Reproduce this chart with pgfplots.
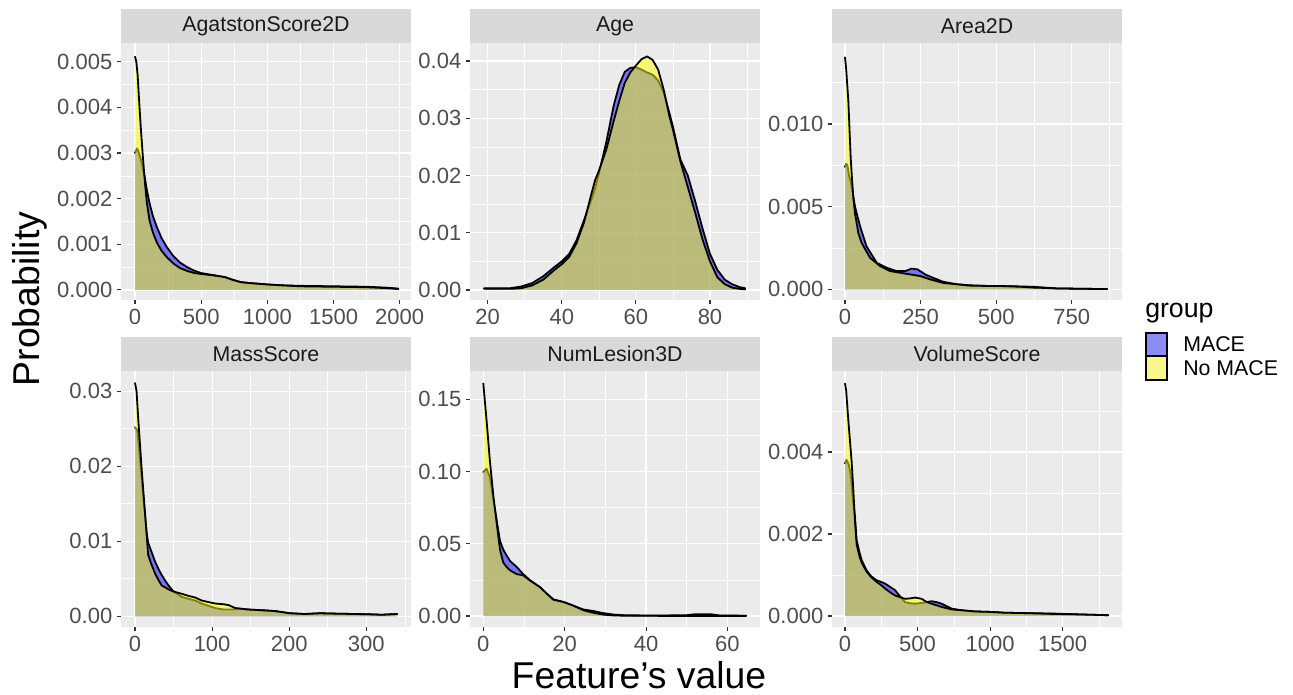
\documentclass[border=0pt]{standalone}
\usepackage{pgfplots}
\pgfplotsset{compat=1.18}
\usepackage{pgfplotstable}
\usepackage{fontspec}
\setmainfont{Liberation Sans}
\definecolor{panelbg}{HTML}{EBEBEB}
\definecolor{stripbg}{HTML}{D9D9D9}
\definecolor{gthirty}{HTML}{4D4D4D}
\definecolor{gtwenty}{HTML}{333333}
\definecolor{gten}{HTML}{1A1A1A}
\definecolor{maceblue}{HTML}{0000FF}
\definecolor{noyellow}{HTML}{FFFF00}

% ---------- data (x, density) ----------
\pgfplotstableread{
x y
0 0.00300
15 0.00310
30 0.00300
45 0.00285
60 0.00265
75 0.00245
90 0.00218
110 0.00190
135 0.00162
165 0.00138
200 0.00114
240 0.00094
290 0.00074
340 0.00060
400 0.00049
450 0.00042
500 0.00037
560 0.00034
620 0.00031
680 0.00028
740 0.00022
800 0.00017
870 0.00015
1000 0.00012
1120 0.00010
1250 0.00009
1500 0.00008
1750 0.00007
1900 0.00005
1990 0.00003
}\AgM
\pgfplotstableread{
x y
0 0.00511
10 0.00500
20 0.00470
30 0.00420
45 0.00350
60 0.00290
75 0.00235
90 0.00190
110 0.00152
135 0.00126
165 0.00104
200 0.00086
240 0.00072
290 0.00058
340 0.00048
400 0.00041
450 0.00037
500 0.00035
560 0.00033
620 0.00031
680 0.00028
740 0.00022
800 0.00017
870 0.00015
1000 0.00012
1120 0.00010
1250 0.00008
1500 0.00007
1750 0.00006
1900 0.00004
1990 0.00002
}\AgN
\pgfplotstableread{
x y
19 0.0003
26 0.0003
29 0.0006
32 0.0012
35 0.0024
38 0.0040
40 0.0050
42 0.0063
44 0.0087
46 0.0122
48 0.0158
49 0.0178
50 0.0203
52 0.0258
54 0.0322
55.5 0.0358
57 0.0381
58.5 0.0388
60 0.0389
61.5 0.0385
63 0.0380
64.5 0.0376
66 0.0366
67.5 0.0345
69 0.0310
70 0.0285
72 0.0228
74 0.0200
76 0.0155
78 0.0107
80 0.0063
82 0.0035
84 0.0018
86 0.0010
88 0.0005
89.5 0.0003
}\AgeM
\pgfplotstableread{
x y
19 0.0002
26 0.0002
29 0.0003
32 0.0008
35 0.0018
38 0.0035
40 0.0045
42 0.0058
44 0.0082
46 0.0118
48 0.0168
49 0.0192
50 0.0208
52 0.0245
54 0.0295
55.5 0.0330
57 0.0362
58.5 0.0380
60 0.0392
61.5 0.0403
63 0.0408
64.5 0.0402
66 0.0385
67.5 0.0350
69 0.0305
70 0.0280
72 0.0225
74 0.0180
76 0.0135
78 0.0088
80 0.0050
82 0.0022
84 0.0010
86 0.0004
88 0.0002
89.5 0.0001
}\AgeN
\pgfplotstableread{
x y
0 0.0074
4 0.0076
8 0.0075
13 0.0069
19 0.0065
22 0.0062
27.6 0.0056
33 0.0050
50 0.0038
71 0.0026
105 0.0016
138 0.0013
170 0.0011
200 0.0011
220 0.00125
240 0.0012
265 0.0009
290 0.0007
325 0.00045
370 0.0003
413 0.00024
470 0.0002
524 0.00019
580 0.00017
623 0.00015
660 0.0001
700 0.00005
780 0.00003
867 0.00001
}\ArM
\pgfplotstableread{
x y
0 0.01403
4 0.0133
11 0.0114
18.7 0.0080
22 0.0070
27.6 0.0055
33 0.0046
44 0.0034
55 0.0028
83 0.0019
116 0.0014
149 0.0011
182 0.0010
215 0.0009
248 0.0008
281 0.0006
325 0.00038
370 0.0003
413 0.00022
470 0.0002
524 0.00019
580 0.00015
623 0.0001
660 0.00008
700 0.00005
780 0.00003
867 0.00001
}\ArN
\pgfplotstableread{
x y
0 0.0252
3 0.0248
6.5 0.0210
10.8 0.0158
15 0.0112
17 0.0098
21 0.0087
26 0.0073
30 0.0064
34.6 0.0055
40 0.0046
45 0.0039
50 0.0033
60.5 0.0026
70 0.0023
78 0.0021
86.5 0.0017
95 0.0014
104 0.0011
115 0.0009
126 0.0009
135 0.0010
147 0.0009
165 0.0008
181 0.0007
201 0.0004
220 0.0003
240 0.0004
260 0.00035
301 0.00027
320 0.0002
340 0.0003
}\MaM
\pgfplotstableread{
x y
0 0.0311
2 0.0300
4.3 0.0261
8.7 0.0195
13 0.0137
17 0.0082
21 0.0070
26 0.0057
30 0.0049
34.6 0.0041
40 0.0038
45 0.0035
50 0.0033
60.5 0.0030
70 0.0027
78 0.0025
86.5 0.0021
95 0.0019
104 0.0017
115 0.0016
121 0.0015
130 0.0011
147 0.0009
165 0.0008
181 0.0007
201 0.0004
220 0.0003
240 0.0004
260 0.00035
301 0.00027
320 0.0002
340 0.0003
}\MaN
\pgfplotstableread{
x y
0 0.0997
0.8 0.1020
1.6 0.0963
2.5 0.0800
3.3 0.0660
4.1 0.0520
4.9 0.0460
5.7 0.0420
6.6 0.0380
8.2 0.0340
9.8 0.0290
11.5 0.0247
13.9 0.0200
15.6 0.0155
17.2 0.0115
19.7 0.0097
22.1 0.0072
24.6 0.0045
27 0.0035
29.5 0.0020
32 0.0010
35 0.0005
40 0.0004
45 0.0004
50 0.0006
52 0.0012
56 0.0012
58 0.0004
64.6 0.0002
}\NuM
\pgfplotstableread{
x y
0 0.1610
0.8 0.1355
1.6 0.1080
2.5 0.0824
3.3 0.0640
4.1 0.0460
4.9 0.0370
5.7 0.0340
6.6 0.0316
8.2 0.0290
9.8 0.0282
11.5 0.0245
13.9 0.0200
15.6 0.0155
17.2 0.0113
19.7 0.0097
22.1 0.0072
24.6 0.0040
27 0.0023
29.5 0.0010
32 0.0004
35 0.0002
45 0.0001
64.6 0.0001
}\NuN
\pgfplotstableread{
x y
0 0.00372
10 0.00381
25 0.00370
39 0.00347
57 0.00275
69 0.00240
80 0.00185
100 0.00155
115 0.00136
149 0.00111
180 0.00097
218 0.00087
250 0.00083
276 0.00079
310 0.00071
345 0.00063
379 0.00048
413 0.00034
450 0.00031
482 0.00030
528 0.00032
563 0.00034
597 0.00036
630 0.00034
666 0.00030
700 0.00024
735 0.00018
804 0.00014
900 0.00011
1000 0.00010
1100 0.00008
1250 0.00007
1435 0.00006
1600 0.00004
1700 0.00003
1814 0.00002
}\VoM
\pgfplotstableread{
x y
0 0.00567
8 0.00550
23 0.00477
46 0.00375
57 0.00310
69 0.00230
80 0.00175
100 0.00145
115 0.00130
149 0.00108
180 0.00095
218 0.00083
250 0.00075
276 0.00067
310 0.00058
345 0.00050
379 0.00046
413 0.00042
450 0.00043
482 0.00045
528 0.00042
563 0.00034
597 0.00030
666 0.00022
735 0.00016
804 0.00014
900 0.00011
1000 0.00010
1100 0.00008
1250 0.00007
1435 0.00005
1600 0.00004
1700 0.00003
1814 0.00002
}\VoN

\pgfplotsset{
  panel/.style={
    scale only axis, width=217.5pt,
    anchor=north west,
    axis background/.style={fill=panelbg},
    axis line style={draw=none},
    grid=both,
    major grid style={white, line width=0.9pt},
    minor grid style={white, line width=0.45pt},
    tick align=outside, major tick length=3pt, minor tick length=0pt,
    xtick pos=lower, ytick pos=left,
    every tick/.style={gtwenty, line width=0.8pt},
    tick label style={font=\fontsize{16.5}{19}\selectfont, text=gthirty},
    /pgf/number format/assume math mode=true,
    /pgf/number format/1000 sep={},
    scaled x ticks=false, scaled y ticks=false,
    every axis title shift=0pt,
    title style={at={(0.5,1)}, anchor=south, yshift=0pt, fill=stripbg,
      minimum width=217.5pt, minimum height=25pt, inner sep=0pt,
      font=\fontsize{16}{19}\selectfont, text=gten},
    clip=true,
  },
  yfmt/.style={yticklabel style={/pgf/number format/.cd, fixed, fixed zerofill, precision=#1}},
  dens/.style={black, line width=1.35pt, line join=round, line cap=round, mark=none},
  fillM/.style={draw=none, fill=maceblue, fill opacity=0.5, mark=none},
  fillN/.style={draw=none, fill=noyellow, fill opacity=0.5, mark=none},
}

\newcommand{\densplot}[2]{%
  \addplot[fillM] table {#1} \closedcycle;
  \addplot[dens] table {#1};
  \addplot[fillN] table {#2} \closedcycle;
  \addplot[dens] table {#2};
}

\begin{document}
\begin{tikzpicture}
\path[use as bounding box] (0pt,0pt) rectangle (969.75pt,-521.25pt);

% Row 1
\begin{axis}[panel, at={(90.75pt,-32.25pt)}, height=192.75pt,
  title={AgatstonScore2D},
  xmin=-105.8, xmax=2085.4, ymin=-0.00022, ymax=0.00541,
  xtick={0,500,1000,1500,2000}, minor xtick={250,750,1250,1750},
  ytick={0,0.001,0.002,0.003,0.004,0.005},
  minor ytick={0.0005,0.0015,0.0025,0.0035,0.0045},
  yfmt=3]
\densplot{\AgM}{\AgN}
\end{axis}

\begin{axis}[panel, at={(352.5pt,-32.25pt)}, height=192.75pt,
  title={Age},
  xmin=15.22, xmax=93.5, ymin=-0.00175, ymax=0.04314,
  xtick={20,40,60,80}, minor xtick={30,50,70,90},
  ytick={0,0.01,0.02,0.03,0.04},
  minor ytick={0.005,0.015,0.025,0.035},
  yfmt=2]
\densplot{\AgeM}{\AgeN}
\end{axis}

\begin{axis}[panel, at={(624pt,-32.25pt)}, height=192.75pt,
  title={Area2D},
  xmin=-43, xmax=916, ymin=-0.00065, ymax=0.0149,
  xtick={0,250,500,750}, minor xtick={125,375,625,875},
  ytick={0,0.005,0.010},
  minor ytick={0.0025,0.0075,0.0125},
  yfmt=3]
\densplot{\ArM}{\ArN}
\end{axis}

% Row 2
\begin{axis}[panel, at={(90.75pt,-278.25pt)}, height=192pt,
  title={MassScore},
  xmin=-18.2, xmax=358, ymin=-0.00143, ymax=0.0327,
  xtick={0,100,200,300}, minor xtick={50,150,250,350},
  ytick={0,0.01,0.02,0.03},
  minor ytick={0.005,0.015,0.025},
  yfmt=2]
\densplot{\MaM}{\MaN}
\end{axis}

\begin{axis}[panel, at={(352.5pt,-278.25pt)}, height=192pt,
  title={NumLesion3D},
  xmin=-3.27, xmax=68.0, ymin=-0.0076, ymax=0.1696,
  xtick={0,20,40,60}, minor xtick={10,30,50},
  ytick={0,0.05,0.10,0.15},
  minor ytick={0.025,0.075,0.125},
  yfmt=2]
\densplot{\NuM}{\NuN}
\end{axis}

\begin{axis}[panel, at={(624pt,-278.25pt)}, height=192pt,
  title={VolumeScore},
  xmin=-89.6, xmax=1908.6, ymin=-0.000268, ymax=0.005976,
  xtick={0,500,1000,1500}, minor xtick={250,750,1250,1750},
  ytick={0,0.002,0.004},
  minor ytick={0.001,0.003,0.005},
  yfmt=3]
\densplot{\VoM}{\VoN}
\end{axis}

% axis titles
\node[rotate=90, anchor=base, inner sep=0pt, font=\fontsize{28}{32}\selectfont, text=black]
  at (30pt,-224.25pt) {Probability};
\node[anchor=base, inner sep=0pt, font=\fontsize{28}{32}\selectfont, text=black]
  at (479.25pt,-516pt) {Feature’s value};

% legend
\node[anchor=base west, inner sep=0pt, font=\fontsize{20}{24}\selectfont, text=black]
  at (858.75pt,-238.5pt) {group};
\fill[white!95!black] (859.5pt,-249.75pt) rectangle (875.25pt,-285pt);
\fill[maceblue, fill opacity=0.42] (859.5pt,-249.75pt) rectangle (875.25pt,-267pt);
\fill[noyellow, fill opacity=0.42] (859.5pt,-267pt) rectangle (875.25pt,-285pt);
\draw[black, line width=0.8pt] (859.5pt,-249.75pt) rectangle (875.25pt,-267pt);
\draw[black, line width=0.8pt] (859.5pt,-267pt) rectangle (875.25pt,-285pt);
\node[anchor=west, inner sep=0pt, font=\fontsize{16}{19}\selectfont, text=black]
  at (887.25pt,-258.4pt) {MACE};
\node[anchor=west, inner sep=0pt, font=\fontsize{16}{19}\selectfont, text=black]
  at (887.25pt,-276pt) {No MACE};
\end{tikzpicture}
\end{document}
